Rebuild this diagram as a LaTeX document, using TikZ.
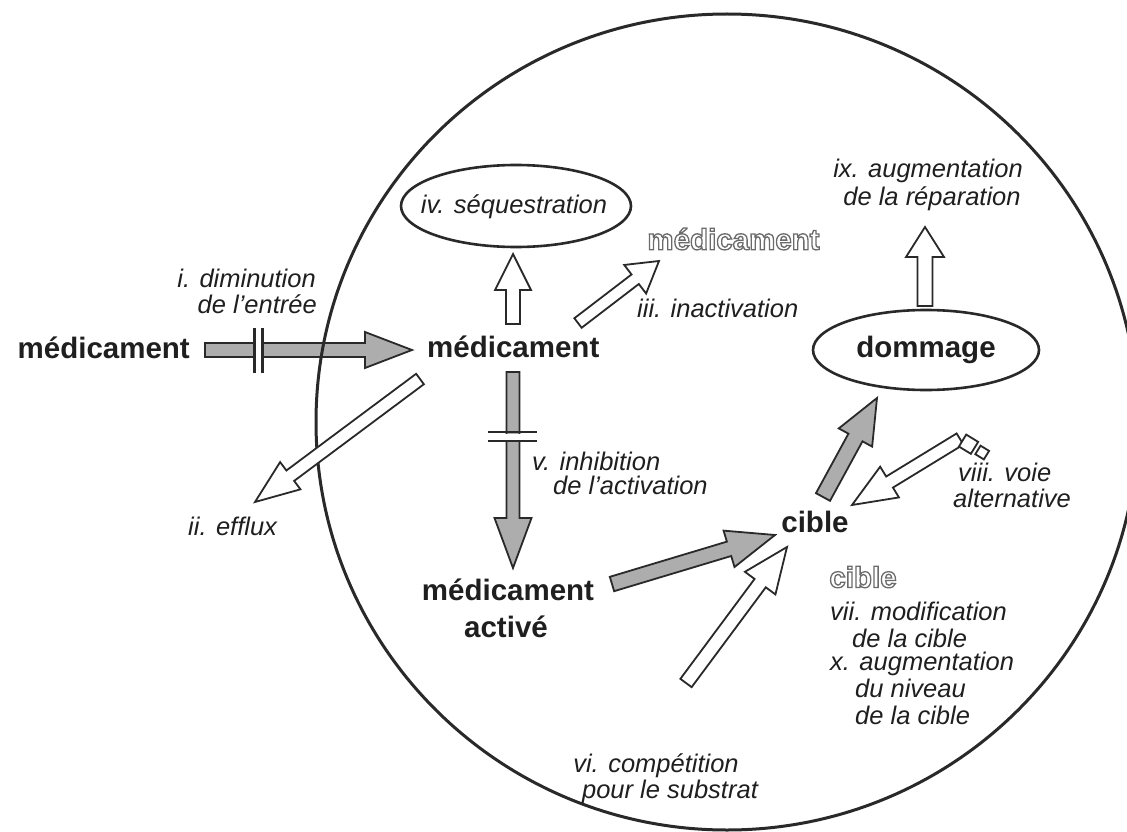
\documentclass[tikz,border=0pt]{standalone}
\usepackage{fontspec}
\setmainfont{Liberation Sans}
\usetikzlibrary{calc,shapes.geometric}
\definecolor{ink}{gray}{0.12}
\definecolor{edge}{gray}{0.16}
\definecolor{arrowgray}{gray}{0.68}
\definecolor{hollowgray}{gray}{0.42}
\tikzset{
  lbl/.style={font=\itshape\fontsize{25.5}{29}\selectfont, text=ink, inner sep=0pt},
  bigtxt/.style={font=\bfseries\fontsize{29.5}{33}\selectfont, text=ink, inner sep=0pt},
  hollow/.style={bigtxt, text=hollowgray},
  fatline/.style={draw=edge, line width=1.8pt, line join=miter},
  oval/.style={draw=edge, line width=2.6pt, ellipse, inner sep=0pt},
  barline/.style={draw=edge, line width=2.6pt},
}
% #1 fill, #2 from, #3 to, #4 half shaft, #5 half head, #6 head length
\newcommand{\fatarrow}[6]{%
  \filldraw[fatline, fill=#1] let \p1=($(#3)-(#2)$), \n1={atan2(\y1,\x1)} in
    ($(#2)+(\n1+90:#4)$) -- ($(#3)+(\n1+180:#6)+(\n1+90:#4)$)
    -- ($(#3)+(\n1+180:#6)+(\n1+90:#5)$) -- (#3)
    -- ($(#3)+(\n1+180:#6)+(\n1-90:#5)$) -- ($(#3)+(\n1+180:#6)+(\n1-90:#4)$)
    -- ($(#2)+(\n1-90:#4)$) -- cycle;}
% outlined (stroked) text
\newcommand{\outlined}[1]{\special{pdf:literal direct 1 Tr 1.3 w}#1\special{pdf:literal direct 0 Tr}}
\begin{document}
\begin{tikzpicture}[x=1pt,y=-1pt]
\useasboundingbox (0,0) rectangle (1127,832);
\fill[white] (0,0) rectangle (1127,832);

% ---- arrow end points ----
\coordinate (inA) at (205,350);   \coordinate (inB) at (412,350);
\coordinate (upA) at (513,324);   \coordinate (upB) at (513,254);
\coordinate (iiiA) at (578,323);  \coordinate (iiiB) at (659,261);
\coordinate (effA) at (420,379);  \coordinate (effB) at (255,502);
\coordinate (dnA) at (513,372);   \coordinate (dnB) at (513,568);
\coordinate (actA) at (612,584);  \coordinate (actB) at (775,535);
\coordinate (viA) at (686,683);   \coordinate (viB) at (787,547);
\coordinate (cdA) at (823,497);   \coordinate (cdB) at (877,398);
\coordinate (viiiA) at (960,439); \coordinate (viiiB) at (852,505);
\coordinate (ixA) at (925,306);   \coordinate (ixB) at (925,227);

% entry arrow (under the membrane)
\fatarrow{arrowgray}{inA}{inB}{7pt}{18pt}{47pt}
\fill[white] (256,341) rectangle (261,359);
\draw[barline] (254.5,328) -- (254.5,373);
\draw[barline] (262.5,328) -- (262.5,373);

% cell membrane
\node[draw=edge, line width=3pt, ellipse, minimum width=822pt, minimum height=816pt, inner sep=0pt] (cell) at (727,422) {};

% ---- text nodes ----
\node[bigtxt, anchor=base east] (drugout) at (190,358) {médicament};
\node[bigtxt, anchor=base west] (drug) at (427,357) {médicament};
\node[bigtxt, anchor=base] (act1) at (508,600) {médicament};
\node[bigtxt, anchor=base] (act2) at (506,637) {activé};
\node[bigtxt, anchor=base] (cible) at (815,532) {cible};
\node[oval, minimum width=230pt, minimum height=82pt] (seq) at (516,206) {};
\node[lbl] (seqtxt) at (514,207) {iv. séquestration};
\node[oval, minimum width=226pt, minimum height=80pt] (dom) at (926,350) {};
\node[bigtxt] (domtxt) at (dom.center) {dommage};
\node[hollow] (drugin) at (733.5,239) {\outlined{médicament}};
\node[hollow] (ciblealt) at (863,577) {\outlined{cible}};

\node[lbl, anchor=base east] (i1) at (316,287) {i. diminution};
\node[lbl, anchor=base east] (i2) at (317,313) {de l’entrée};
\node[lbl, anchor=base west] (ii) at (188,535) {ii. efflux};
\node[lbl, anchor=base west] (iii) at (637,317) {iii. inactivation};
\node[lbl, anchor=base west] (v1) at (532,470) {v. inhibition};
\node[lbl, anchor=base west] (v2) at (553,494) {de l’activation};
\node[lbl, anchor=base] (vi1) at (656,772) {vi. compétition};
\node[lbl, anchor=base] (vi2) at (670,798) {pour le substrat};
\node[lbl, anchor=base west] (vii1) at (830,620) {vii. modification};
\node[lbl, anchor=base west] (vii2) at (852,647) {de la cible};
\node[lbl, anchor=base west] (x1) at (830,670) {x. augmentation};
\node[lbl, anchor=base west] (x2) at (855,697) {du niveau};
\node[lbl, anchor=base west] (x3) at (855,724) {de la cible};
\node[lbl, anchor=base west] (viii1) at (958,481) {viii. voie};
\node[lbl, anchor=base west] (viii2) at (953,507) {alternative};
\node[lbl, anchor=base] (ix1) at (928,178) {ix. augmentation};
\node[lbl, anchor=base] (ix2) at (932,205) {de la réparation};

% ---- arrows inside ----
\fatarrow{white}{upA}{upB}{7pt}{18pt}{36pt}
\fatarrow{white}{iiiA}{iiiB}{6pt}{18pt}{30pt}
\fatarrow{white}{effA}{effB}{6.5pt}{17pt}{44pt}
\fatarrow{arrowgray}{dnA}{dnB}{6.5pt}{18.5pt}{50pt}
\fill[white] (503,433.5) rectangle (523,439.5);
\draw[barline] (488,432) -- (537,432);
\draw[barline] (488,441) -- (537,441);
\fatarrow{arrowgray}{actA}{actB}{7.5pt}{19pt}{48pt}
\fatarrow{white}{viA}{viB}{7pt}{19pt}{45pt}
\fatarrow{arrowgray}{cdA}{cdB}{8pt}{19pt}{45pt}
\fatarrow{white}{viiiA}{viiiB}{6.5pt}{18pt}{44pt}
% dashed tail of viii
\begin{scope}[shift={(viiiA)}, rotate=-31.4]
  \draw[fatline, fill=white] (3pt,-7pt) rectangle (17pt,7pt);
  \draw[fatline, fill=white] (21pt,-5pt) rectangle (31pt,5pt);
\end{scope}
\fatarrow{white}{ixA}{ixB}{7.5pt}{19pt}{30pt}
\end{tikzpicture}
\end{document}
